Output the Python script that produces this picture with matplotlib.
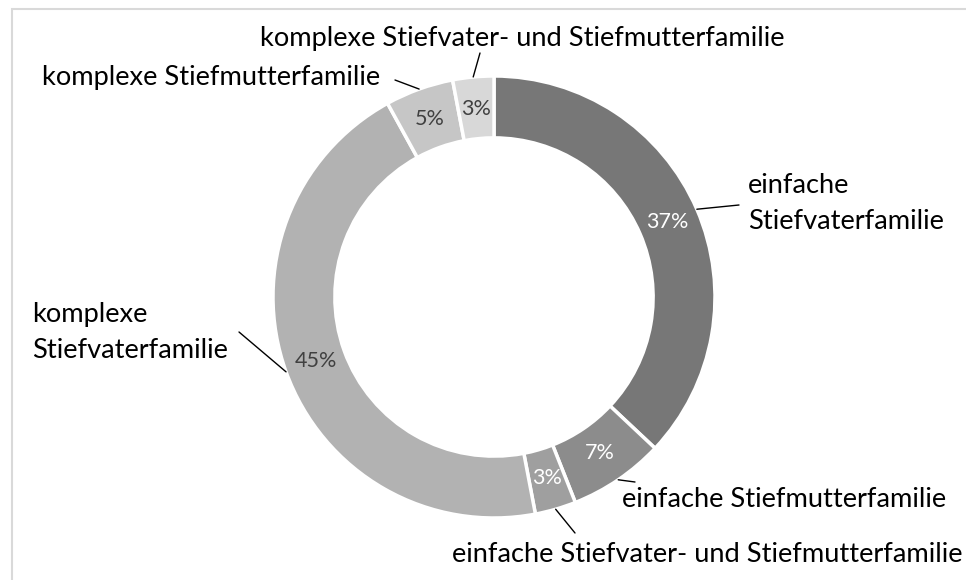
import matplotlib.pyplot as plt
import numpy as np
from matplotlib.patches import Rectangle

plt.rcParams['font.family'] = ['Lato', 'DejaVu Sans']

# data
labels = ['einfache\nStiefvaterfamilie',
          'einfache Stiefmutterfamilie',
          'einfache Stiefvater- und Stiefmutterfamilie',
          'komplexe\nStiefvaterfamilie',
          'komplexe Stiefmutterfamilie',
          'komplexe Stiefvater- und Stiefmutterfamilie']
shares = [37, 7, 3, 45, 5, 3]
colors = ['#777777', '#8c8c8c', '#9f9f9f', '#b2b2b2', '#c6c6c6', '#d8d8d8']
pct_colors = ['white', 'white', 'white', '#404040', '#404040', '#404040']

# label layout in image pixels: text anchor (left, last baseline) and leader line end
text_pos = [(748, 229), (622, 507), (452, 562), (32, 358), (42, 85), (260, 46)]
line_end = [(739, 205), (635, 482), (575, 533), (239, 332), (395, 80), (480, 53)]

W, H = 966, 580
fig = plt.figure(figsize=(W / 100, H / 100), dpi=100)

# chart border (only top and left are inside the crop)
fig.add_artist(Rectangle((12 / W, -0.1), 1.2, 1 - 9 / H + 0.1, transform=fig.transFigure,
                         fill=False, edgecolor='#d9d9d9', linewidth=1.5))

cx, cy, r = 494, 297, 221
ax = fig.add_axes([(cx - r) / W, (H - cy - r) / H, 2 * r / W, 2 * r / H])
wedges, texts = ax.pie(shares, colors=colors, startangle=90, counterclock=False,
                       radius=1, wedgeprops=dict(width=0.28, edgecolor='white', linewidth=2.5))
ax.set_xlim(-1, 1)
ax.set_ylim(-1, 1)
ax.set_aspect('equal')
ax.axis('off')


def to_fig(p):
    return (p[0] / W, 1 - p[1] / H)


for i, w in enumerate(wedges):
    ang = np.deg2rad((w.theta1 + w.theta2) / 2)
    ax.text(0.855 * np.cos(ang), 0.855 * np.sin(ang), '%d%%' % shares[i],
            ha='center', va='center', fontsize=15.5, color=pct_colors[i])
    ax.annotate('', xy=(np.cos(ang), np.sin(ang)), xycoords='data',
                xytext=to_fig(line_end[i]), textcoords='figure fraction',
                arrowprops=dict(arrowstyle='-', color='black', linewidth=1,
                                shrinkA=0, shrinkB=0))
    tx, ty = to_fig(text_pos[i])
    fig.text(tx, ty, labels[i], ha='left', va='baseline', fontsize=19.6,
             color='black', linespacing=1.55)

fig.savefig('out.png', dpi=100)
